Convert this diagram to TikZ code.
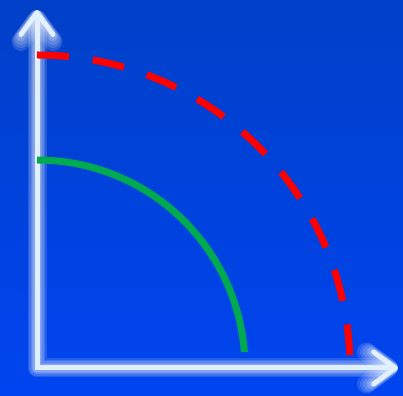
\documentclass[tikz,border=0pt]{standalone}
\usepackage{xcolor}
\usepackage{tikz}
\usetikzlibrary{arrows.meta}
\definecolor{bgtop}{HTML}{0040C8}
\definecolor{bgbottom}{HTML}{0044F0}
\definecolor{axiswhite}{HTML}{E0F0FF}
\definecolor{arcgreen}{HTML}{00AA50}
\definecolor{arcred}{HTML}{FF0000}

\begin{document}
\begin{tikzpicture}[x=1pt, y=1pt,
    axis/.style  = {draw=axiswhite, line width=5pt, line join=miter,
      {Straight Barb[round, length=22pt 0, width=32pt 0]}-{Straight Barb[round, length=22pt 0, width=32pt 0]}},
    glow/.style  = {axis, draw=white, line width=#1, opacity=0.14,
      line cap=round, line join=round},
    inner/.style = {draw=arcgreen, line width=7pt},
    outer/.style = {draw=arcred, line width=7pt, dash pattern=on 32pt off 24pt}
  ]

  % Background
  \shade[top color=bgtop, bottom color=bgbottom] (0,0) rectangle (403,395);
  \useasboundingbox (0,0) rectangle (403,395);

  \coordinate (origin) at (37,27);
  \coordinate (ytip)   at (37,385);
  \coordinate (xtip)   at (398,27);

  % Glow round the axes
  \foreach \w in {19,16,13,10,8}
    \draw[glow=\w pt] (ytip) -- (origin) -- (xtip);

  % Axes
  \draw[axis] (ytip) -- (origin) -- (xtip);

  % Arcs
  \draw[inner] (37,235) arc[start angle=90, end angle=4.4, radius=208];
  \draw[outer] (37,340) arc[start angle=90, end angle=2.4, radius=313];
\end{tikzpicture}
\end{document}
